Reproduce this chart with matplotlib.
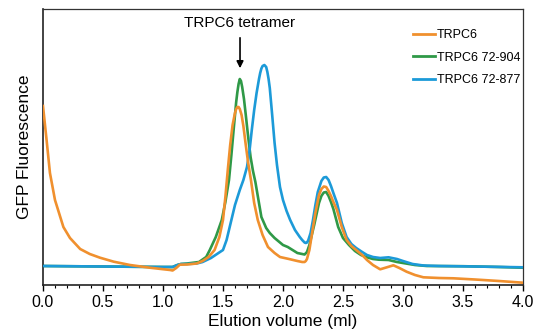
import matplotlib
matplotlib.use("Agg")
from matplotlib import pyplot as plt
from matplotlib.lines import Line2D
from matplotlib.ticker import MultipleLocator

plt.rcParams["font.family"] = ["Liberation Sans", "DejaVu Sans"]

# elution volume (ml) and GFP fluorescence (arbitrary units)
trpc6_vol = [0.00, 0.03, 0.058, 0.10, 0.17, 0.225, 0.31, 0.39, 0.475, 0.59, 0.725, 0.89,
             1.00, 1.06, 1.08, 1.11, 1.14, 1.20, 1.28, 1.33, 1.38, 1.43, 1.47, 1.50,
             1.52, 1.54, 1.56, 1.58, 1.60, 1.61, 1.62, 1.63, 1.64, 1.655, 1.67, 1.69,
             1.71, 1.733, 1.76, 1.79, 1.83, 1.875, 1.93, 1.975, 2.05, 2.12, 2.16, 2.18,
             2.19, 2.20, 2.22, 2.24, 2.27, 2.30, 2.32, 2.34, 2.36, 2.38, 2.40, 2.42,
             2.45, 2.49, 2.53, 2.57, 2.61, 2.66, 2.70, 2.75, 2.81, 2.86, 2.92, 2.97,
             3.03, 3.10, 3.17, 3.30, 3.42, 3.60, 3.80, 4.00]
trpc6_gfp = [179, 145, 112, 85, 58, 47, 36, 31, 27.3, 23.3, 20, 17.3,
             15.8, 15, 14.5, 17, 20.3, 20.5, 21.5, 24, 28, 35, 48, 65,
             88, 115, 140, 160, 172, 176, 178, 178, 176, 170, 159, 140,
             122, 105, 82, 65, 50, 38, 32, 28, 26, 24, 23, 23,
             24, 26, 35, 50, 72, 90, 96, 98.5, 98, 94, 89, 83,
             75, 58, 45, 39, 35, 30, 25, 20, 15.7, 17.5, 19.7, 17,
             13.3, 10, 7.7, 7, 6.7, 5.5, 4, 2.3]

t904_vol = [0.00, 0.50, 1.00, 1.08, 1.12, 1.15, 1.20, 1.30, 1.36, 1.39, 1.44, 1.49,
            1.52, 1.55, 1.57, 1.59, 1.61, 1.62, 1.63, 1.64, 1.65, 1.66, 1.675, 1.69,
            1.71, 1.73, 1.75, 1.77, 1.80, 1.82, 1.86, 1.89, 1.93, 1.97, 2.00, 2.04,
            2.08, 2.12, 2.16, 2.18, 2.20, 2.22, 2.26, 2.30, 2.32, 2.34, 2.36, 2.38,
            2.40, 2.42, 2.46, 2.50, 2.55, 2.60, 2.65, 2.70, 2.75, 2.80, 2.88, 2.95,
            3.00, 3.10, 3.20, 3.50, 3.80, 4.00]
t904_gfp = [19, 18.5, 18, 18, 20, 21, 21.5, 23, 28, 35, 48, 65,
            83, 105, 130, 157, 183, 193, 201, 206, 204, 198, 186, 170,
            148, 128, 114, 103, 82, 68, 57, 52, 47, 43, 40, 38,
            35, 32, 31, 30.5, 33, 40, 60, 82, 89, 92.5, 93, 89,
            83, 76, 58, 47, 40, 34, 30, 27.7, 26, 25.3, 25, 23,
            22, 20, 19, 18.8, 18, 17.3]

t877_vol = [0.00, 0.50, 1.00, 1.08, 1.12, 1.15, 1.20, 1.28, 1.33, 1.40, 1.45, 1.50,
            1.53, 1.57, 1.60, 1.64, 1.67, 1.70, 1.72, 1.74, 1.76, 1.78, 1.80, 1.81,
            1.82, 1.83, 1.845, 1.86, 1.87, 1.88, 1.89, 1.91, 1.93, 1.95, 1.975, 2.00,
            2.03, 2.06, 2.10, 2.14, 2.16, 2.18, 2.19, 2.20, 2.21, 2.23, 2.25, 2.27,
            2.29, 2.32, 2.34, 2.36, 2.38, 2.40, 2.42, 2.45, 2.49, 2.53, 2.57, 2.61,
            2.66, 2.70, 2.75, 2.81, 2.88, 2.95, 3.00, 3.08, 3.17, 3.30, 3.60, 4.00]
t877_gfp = [19, 18.5, 18, 18, 20, 21, 21, 21.5, 23, 27, 31, 35,
            45, 65, 80, 95, 105, 118, 133, 155, 175, 192, 206, 212,
            216.5, 219, 220, 218, 213, 206, 197, 170, 142, 120, 98, 85,
            74, 65, 55, 48, 45, 42.5, 42, 42.5, 44.5, 52, 65, 80,
            93, 104, 107.5, 108, 105, 99, 92, 82, 62, 48, 41, 37,
            33, 30, 28, 27, 27.7, 26, 24, 21, 19.5, 19, 18.5, 17.7]

series_labels = ["TRPC6", "TRPC6 72-904", "TRPC6 72-877"]
x_ticks = [0.0, 0.5, 1.0, 1.5, 2.0, 2.5, 3.0, 3.5, 4.0]

orange = "#F0902E"
green = "#2F9947"
blue = "#1C9AD8"

fig = plt.figure(figsize=(5.36, 3.34), dpi=100)
ax = fig.add_axes([0.0802, 0.1467, 0.8955, 0.8263])

ax.plot(t904_vol, t904_gfp, color=green, lw=1.9, zorder=2)
ax.plot(t877_vol, t877_gfp, color=blue, lw=1.9, zorder=3)
ax.plot(trpc6_vol, trpc6_gfp, color=orange, lw=1.9, zorder=4)

ax.set_xlim(0, 4.0)
ax.set_ylim(0, 276)
ax.set_yticks([])
ax.set_xticks(x_ticks)
ax.set_xticklabels([f"{t:.1f}" for t in x_ticks])
ax.xaxis.set_minor_locator(MultipleLocator(0.1))
ax.tick_params(axis="x", which="major", direction="out", length=4, width=1, labelsize=11.5, pad=3)
ax.tick_params(axis="x", which="minor", direction="out", length=2.5, width=0.8)

for side in ["top", "right"]:
    ax.spines[side].set_linewidth(0.9)
    ax.spines[side].set_color("#333333")
for side in ["left", "bottom"]:
    ax.spines[side].set_linewidth(1.2)
    ax.spines[side].set_color("#222222")

ax.set_xlabel("Elution volume (ml)", fontsize=12.5, labelpad=3)
ax.set_ylabel("GFP Fluorescence", fontsize=12.5, labelpad=8)

ax.annotate("", xy=(1.642, 214), xytext=(1.642, 250),
            arrowprops=dict(arrowstyle="-|>", color="black", lw=1.2, mutation_scale=10))
ax.text(1.642, 262, "TRPC6 tetramer", ha="center", va="center", fontsize=11)

handles = [Line2D([], [], color=c, lw=2) for c in (orange, green, blue)]
ax.legend(handles, series_labels, loc="upper left", bbox_to_anchor=(0.76, 0.945),
          frameon=False, fontsize=9, handlelength=1.8, handletextpad=0.1,
          labelspacing=0.85, borderaxespad=0)

fig.savefig("out.png", dpi=100)
